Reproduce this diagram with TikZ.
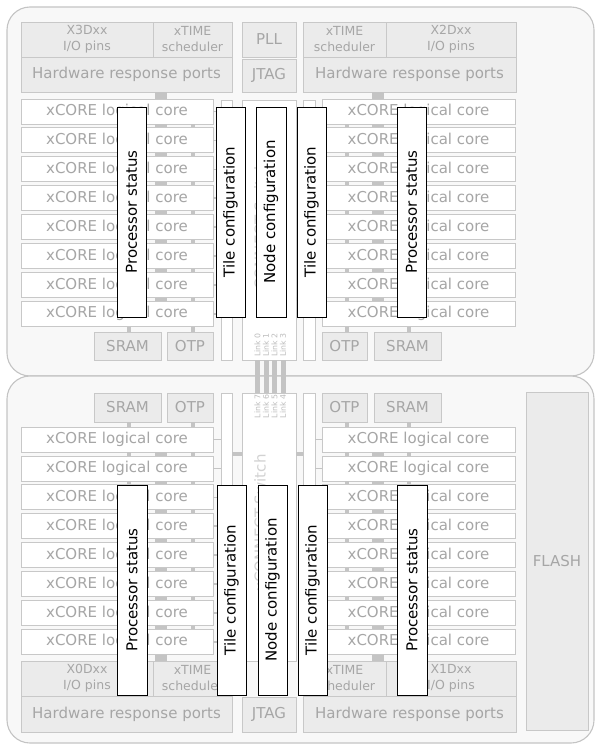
\documentclass[tikz,border=0pt]{standalone}
\usepackage{fontspec}
\setmainfont{DejaVu Sans}
\usepackage{tikz}
\usetikzlibrary{positioning}
\definecolor{chipline}{HTML}{C4C4C4}
\definecolor{chipfill}{HTML}{F8F8F8}
\definecolor{padline}{HTML}{C8C8C8}
\definecolor{padfill}{HTML}{EBEBEB}
\definecolor{padtext}{HTML}{A6A6A6}
\definecolor{busgray}{HTML}{C4C4C4}
\definecolor{linktext}{HTML}{BDBDBD}
\definecolor{switchtext}{HTML}{D2D2D2}
\tikzset{
every node/.style={inner sep=0pt, font=\fontsize{15}{18}\selectfont}, % sets the default text of every node
wh/.style 2 args={minimum width=#1pt, minimum height=#2pt}, % size of a box in pixels
}

\begin{document}
\begin{tikzpicture}[x=1pt, y=-1pt,
    chip/.style = {draw=chipline, fill=chipfill, line width=1.1pt, rounded corners=23pt},
    pad/.style = {draw=padline, fill=padfill, text=padtext, line width=0.8pt, align=center},
    tilebar/.style = {draw=padline, fill=white, line width=0.8pt},
    core/.style = {draw=padline, fill=white, text=padtext, line width=0.8pt, wh={192}{25}},
    info/.style = {draw=black, fill=white, line width=0.9pt, rotate=90, wh={210}{29}},
    bus/.style = {draw=busgray, line width=4pt},
    wide bus/.style = {bus, line width=12pt},
    stub/.style = {draw=busgray, line width=1.5pt},
    link/.style = {draw=busgray, line width=5pt},
    smalltext/.style = {font=\fontsize{12.5}{16}\selectfont},
    linklabel/.style = {font=\fontsize{7.8}{8}\selectfont, text=linktext, rotate=90},
]
    \useasboundingbox (0,0) rectangle (594,746);
    % the two chips
    \node[chip, wh={587}{369}] (top) at (300.5,191.5) {};
    \node[chip, wh={587}{367}] (bottom) at (300.5,559.5) {};

    % top chip, pins and ports
    \node[pad, smalltext, wh={132}{35}] (x3) at (87,39.5) {X3Dxx\\I/O pins};
    \node[pad, smalltext, wh={79}{35}] (xtimeTL) at (192.5,39.5) {xTIME\\scheduler};
    \node[pad, wh={211}{35}] (hrpTL) at (126.5,74.5) {Hardware response ports};
    \node[pad, wh={54}{35}] (pll) at (269,39.5) {PLL};
    \node[pad, wh={54}{33}] (jtagT) at (269,75.5) {JTAG};
    \node[pad, smalltext, wh={83}{35}] (xtimeTR) at (344.5,39.5) {xTIME\\scheduler};
    \node[pad, smalltext, wh={130}{35}] (x2) at (451,39.5) {X2Dxx\\I/O pins};
    \node[pad, wh={213}{35}] (hrpTR) at (409.5,74.5) {Hardware response ports};

    \node[tilebar, wh={11}{260}] (tbarTL) at (226.5,230) {};
    \node[tilebar, wh={54}{260}] (swT) at (269,230) {};
    \node[tilebar, wh={12}{260}] (tbarTR) at (309,230) {};
    \node[rotate=90, text=switchtext] (swTname) at (260,230) {xCONNECT Switch};

    \node[pad, wh={67}{28}] (sramTL) at (127.5,346) {SRAM};
    \node[pad, wh={46}{28}] (otpTL) at (190,346) {OTP};
    \node[pad, wh={45}{28}] (otpTR) at (344.5,346) {OTP};
    \node[pad, wh={67}{28}] (sramTR) at (407.5,346) {SRAM};

    % bottom chip, pins and ports
    \node[pad, wh={67}{29}] (sramBL) at (127.5,407.5) {SRAM};
    \node[pad, wh={46}{29}] (otpBL) at (190,407.5) {OTP};
    \node[pad, wh={45}{29}] (otpBR) at (344.5,407.5) {OTP};
    \node[pad, wh={67}{29}] (sramBR) at (407.5,407.5) {SRAM};

    \node[tilebar, wh={11}{268}] (tbarBL) at (226.5,527) {};
    \node[tilebar, wh={54}{268}] (swB) at (269,527) {};
    \node[tilebar, wh={12}{268}] (tbarBR) at (309,527) {};
    \node[rotate=90, text=switchtext] (swBname) at (260,523) {xCONNECT Switch};

    \node[pad, smalltext, wh={132}{35}] (x0) at (87,678.5) {X0Dxx\\I/O pins};
    \node[pad, smalltext, wh={79}{35}] (xtimeBL) at (192.5,678.5) {xTIME\\scheduler};
    \node[pad, wh={211}{36}] (hrpBL) at (126.5,714) {Hardware response ports};
    \node[pad, wh={54}{35}] (jtagB) at (269,714.5) {JTAG};
    \node[pad, smalltext, wh={83}{35}] (xtimeBR) at (344.5,678.5) {xTIME\\scheduler};
    \node[pad, smalltext, wh={130}{35}] (x1) at (451,678.5) {X1Dxx\\I/O pins};
    \node[pad, wh={213}{36}] (hrpBR) at (409.5,714) {Hardware response ports};

    \node[pad, wh={62}{338}] (flash) at (557,561) {FLASH};

    % logical cores
    \foreach \i in {1,...,8} {
        \node[core] (coreTL\i) at (117,{111.5+28.9*(\i-1)}) {xCORE logical core};
        \node[core, minimum width=193pt] (coreTR\i) at (418.5,{111.5+28.9*(\i-1)}) {xCORE logical core};
        \node[core] (coreBL\i) at (117,{439.5+28.9*(\i-1)}) {xCORE logical core};
        \node[core, minimum width=193pt] (coreBR\i) at (418.5,{439.5+28.9*(\i-1)}) {xCORE logical core};
    }

    % bus lines
    \coordinate (bA) at (128.7,0);
    \coordinate (bB) at (160.5,0);
    \coordinate (bC) at (192.5,0);
    \coordinate (bD) at (347.2,0);
    \coordinate (bE) at (377.5,0);
    \coordinate (bF) at (408.7,0);
    \coordinate (swyT) at (0,299);
    \coordinate (swyB) at (0,454);

    \foreach \i [count=\j from 2] in {1,...,7} {
        \draw[bus] (coreTL\i.south -| bA) -- (coreTL\j.north -| bA);
        \draw[wide bus] (coreTL\i.south -| bB) -- (coreTL\j.north -| bB);
        \draw[bus] (coreTL\i.south -| bC) -- (coreTL\j.north -| bC);
        \draw[bus] (coreTR\i.south -| bD) -- (coreTR\j.north -| bD);
        \draw[wide bus] (coreTR\i.south -| bE) -- (coreTR\j.north -| bE);
        \draw[bus] (coreTR\i.south -| bF) -- (coreTR\j.north -| bF);
        \draw[bus] (coreBL\i.south -| bA) -- (coreBL\j.north -| bA);
        \draw[wide bus] (coreBL\i.south -| bB) -- (coreBL\j.north -| bB);
        \draw[bus] (coreBL\i.south -| bC) -- (coreBL\j.north -| bC);
        \draw[bus] (coreBR\i.south -| bD) -- (coreBR\j.north -| bD);
        \draw[wide bus] (coreBR\i.south -| bE) -- (coreBR\j.north -| bE);
        \draw[bus] (coreBR\i.south -| bF) -- (coreBR\j.north -| bF);
    }
    \foreach \i in {1,...,8} {
        \draw[stub] (coreTL\i.east) -- (coreTL\i.east -| tbarTL.west);
        \draw[stub] (coreTR\i.west) -- (coreTR\i.west -| tbarTR.east);
        \draw[stub] (coreBL\i.east) -- (coreBL\i.east -| tbarBL.west);
        \draw[stub] (coreBR\i.west) -- (coreBR\i.west -| tbarBR.east);
    }
    \draw[wide bus] (hrpTL.south -| bB) -- (coreTL1.north -| bB);
    \draw[wide bus] (hrpTR.south -| bE) -- (coreTR1.north -| bE);
    \draw[bus] (coreTL8.south -| bA) -- (sramTL.north -| bA);
    \draw[bus] (coreTL8.south -| bC) -- (otpTL.north -| bC);
    \draw[bus] (coreTR8.south -| bD) -- (otpTR.north -| bD);
    \draw[bus] (coreTR8.south -| bF) -- (sramTR.north -| bF);
    \draw[bus] (sramBL.south -| bA) -- (coreBL1.north -| bA);
    \draw[bus] (otpBL.south -| bC) -- (coreBL1.north -| bC);
    \draw[bus] (otpBR.south -| bD) -- (coreBR1.north -| bD);
    \draw[bus] (sramBR.south -| bF) -- (coreBR1.north -| bF);
    \draw[wide bus] (coreBL8.south -| bB) -- (x0.north -| bB);
    \draw[wide bus] (coreBR8.south -| bE) -- (xtimeBR.north -| bE);

    \draw[bus] (tbarTL.east |- swyT) -- (swT.west |- swyT);
    \draw[bus] (swT.east |- swyT) -- (tbarTR.west |- swyT);
    \draw[bus] (tbarBL.east |- swyB) -- (swB.west |- swyB);
    \draw[bus] (swB.east |- swyB) -- (tbarBR.west |- swyB);

    % links between the two switches
    \foreach \lx in {257.5,266,274.5,283}
        \draw[link] (swT.south -| \lx,0) -- (swB.north -| \lx,0);
    \foreach \n/\lx in {0/257.5,1/266,2/274.5,3/283}
        \node[linklabel] (linkT\n) at (\lx,345) {Link \n};
    \foreach \n/\lx in {7/257.5,6/266,5/274.5,4/283}
        \node[linklabel] (linkB\n) at (\lx,406.5) {Link \n};

    % status and configuration registers
    \node[info] (psTL) at (131.5,212) {Processor status};
    \node[info] (tcTL) at (230.5,212) {Tile configuration};
    \node[info, minimum height=30pt] (ncT) at (271,212) {Node configuration};
    \node[info] (tcTR) at (311.5,212) {Tile configuration};
    \node[info] (psTR) at (411.5,212) {Processor status};
    \node[info, minimum height=30pt] (psBL) at (132,590) {Processor status};
    \node[info] (tcBL) at (231.5,590) {Tile configuration};
    \node[info] (ncB) at (272.5,590) {Node configuration};
    \node[info] (tcBR) at (312.5,590) {Tile configuration};
    \node[info, minimum height=30pt] (psBR) at (412,590) {Processor status};
\end{tikzpicture}
\end{document}
